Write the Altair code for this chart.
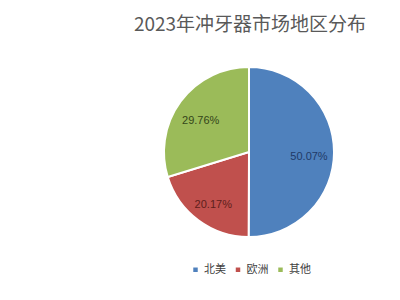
import altair as alt
import pandas as pd

regions = ["北美", "欧洲", "其他"]
shares = [50.07, 20.17, 29.76]
labels = ["50.07%", "20.17%", "29.76%"]
order = [0, 1, 2]
colors = ["#4F81BD", "#C0504D", "#9BBB59"]
label_colors = ["#1F3A68", "#5E1E1B", "#34461A"]

df = pd.DataFrame({"region": regions, "share": shares, "label": labels, "idx": order})

cx, cy = 249, 112

base = alt.Chart(df).encode(
    theta=alt.Theta("share:Q", stack=True),
    order=alt.Order("idx:Q"),
)

pie = base.mark_arc(outerRadius=85, stroke="white", strokeWidth=2).encode(
    x=alt.value(cx), y=alt.value(cy),
    color=alt.Color(
        "region:N",
        scale=alt.Scale(domain=regions, range=colors),
        sort=regions,
        legend=alt.Legend(
            title=None, orient="none", direction="horizontal",
            legendX=190, legendY=224,
            symbolType="square", symbolSize=20, symbolStrokeWidth=0,
            labelFontSize=11, labelFont="Noto Sans CJK SC", labelColor="#404040",
            columnPadding=6.5, labelOffset=3,
        ),
    ),
)

text = base.mark_text(radius=60, dy=5, fontSize=11, font="Liberation Sans").encode(
    x=alt.value(cx), y=alt.value(cy),
    text="label:N",
    color=alt.Color("region:N", scale=alt.Scale(domain=regions, range=label_colors), legend=None),
)

chart = alt.layer(pie, text).resolve_scale(color="independent").properties(
    width=400, height=260,
    padding={"top": 40, "left": 0, "right": 0, "bottom": 0},
    autosize=alt.AutoSizeParams(type="none"),
    title=alt.TitleParams(
        "2023年冲牙器市场地区分布", anchor="middle", dx=50, offset=5,
        fontSize=19, font="Noto Sans CJK SC", fontWeight="normal", color="#595959",
    ),
).configure_view(stroke=None)

chart.save("out.html", embed_options={"renderer": "svg", "actions": False})
